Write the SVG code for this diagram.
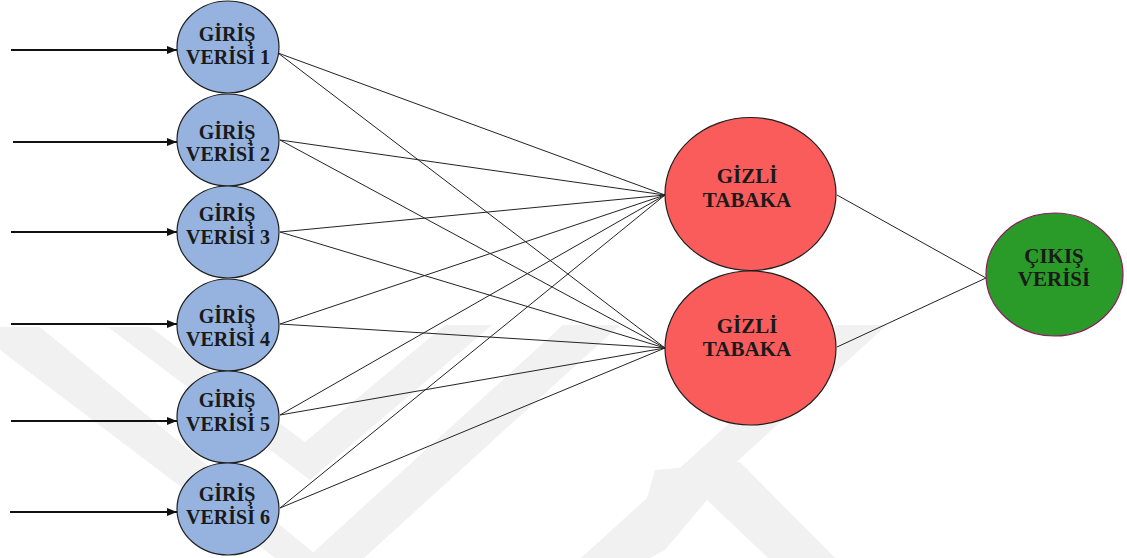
<svg xmlns="http://www.w3.org/2000/svg" width="1127" height="558" viewBox="0 0 1127 558">
<style>
.wm{fill:#f1f1f1;stroke:none}
.in{fill:#95b3de;stroke:#1f1f1f;stroke-width:1.2}
.hid{fill:#fa5c5c;stroke:#1f1f1f;stroke-width:1.2}
.out{fill:#2a9a28;stroke:#8b1c62;stroke-width:1.2}
.lbl{font-family:"Liberation Serif","Times New Roman",serif;font-weight:bold;font-size:20px;fill:#1a1a1a;text-anchor:middle}
.c{stroke:#222;stroke-width:1;fill:none}
.arr{stroke:#111;stroke-width:1.8;fill:none}
</style>
<defs>
<marker id="ah" markerWidth="10" markerHeight="8" refX="10" refY="4" orient="auto" markerUnits="userSpaceOnUse">
<path d="M0,0 L10,4 L0,8 Z" fill="#111"/>
</marker>
</defs>
<rect width="1127" height="558" fill="#ffffff"/>
<g id="watermark">
<polygon class="wm" points="0,327 40,327 320,558 275,558 0,350"/>
<polygon class="wm" points="108,327 150,327 305,442 445,325 492,325 310,480"/>
<polygon class="wm" points="563,325 620,325 364,558 307,558"/>
<polygon class="wm" points="837,325 887,325 631,558 581,558"/>
<polygon class="wm" points="655,470 740,462 835,558 768,558 707,500 665,550 650,558 630,558"/>
</g>
<g id="connectors">
<line class="arr" x1="11" y1="50" x2="177" y2="50" marker-end="url(#ah)"/>
<line class="arr" x1="13" y1="142" x2="177" y2="142" marker-end="url(#ah)"/>
<line class="arr" x1="11" y1="232" x2="177" y2="232" marker-end="url(#ah)"/>
<line class="arr" x1="11" y1="324" x2="177" y2="324" marker-end="url(#ah)"/>
<line class="arr" x1="11" y1="421" x2="177" y2="421" marker-end="url(#ah)"/>
<line class="arr" x1="10" y1="512" x2="177" y2="512" marker-end="url(#ah)"/>
<line class="c" x1="278" y1="53" x2="665" y2="195"/>
<line class="c" x1="278" y1="53" x2="665" y2="348"/>
<line class="c" x1="280" y1="140" x2="665" y2="195"/>
<line class="c" x1="280" y1="140" x2="665" y2="348"/>
<line class="c" x1="280" y1="232" x2="665" y2="195"/>
<line class="c" x1="280" y1="232" x2="665" y2="348"/>
<line class="c" x1="280" y1="324" x2="665" y2="195"/>
<line class="c" x1="280" y1="324" x2="665" y2="348"/>
<line class="c" x1="280" y1="415" x2="665" y2="195"/>
<line class="c" x1="280" y1="415" x2="665" y2="348"/>
<line class="c" x1="280" y1="508" x2="665" y2="195"/>
<line class="c" x1="280" y1="508" x2="665" y2="348"/>
<line class="c" x1="837" y1="195" x2="986" y2="278"/>
<line class="c" x1="837" y1="347" x2="986" y2="278"/>
</g>
<g id="input1"><ellipse class="in" cx="228" cy="47" rx="51" ry="46"/><text class="lbl" x="227" y="41">GİRİŞ</text><text class="lbl" x="228" y="64">VERİSİ 1</text></g>
<g id="input2"><ellipse class="in" cx="228" cy="140" rx="51" ry="46"/><text class="lbl" x="227" y="139">GİRİŞ</text><text class="lbl" x="228" y="161">VERİSİ 2</text></g>
<g id="input3"><ellipse class="in" cx="228" cy="232" rx="51" ry="46"/><text class="lbl" x="227" y="221">GİRİŞ</text><text class="lbl" x="228" y="244">VERİSİ 3</text></g>
<g id="input4"><ellipse class="in" cx="228" cy="325" rx="51" ry="46"/><text class="lbl" x="227" y="323">GİRİŞ</text><text class="lbl" x="228" y="346">VERİSİ 4</text></g>
<g id="input5"><ellipse class="in" cx="228" cy="417" rx="51" ry="46"/><text class="lbl" x="227" y="407">GİRİŞ</text><text class="lbl" x="228" y="431">VERİSİ 5</text></g>
<g id="input6"><ellipse class="in" cx="228" cy="509" rx="51" ry="46"/><text class="lbl" x="227" y="501">GİRİŞ</text><text class="lbl" x="228" y="524">VERİSİ 6</text></g>
<g id="hidden1"><ellipse class="hid" cx="750.5" cy="194" rx="85.5" ry="76.5"/><text class="lbl" x="747" y="183" style="font-size:21px">GİZLİ</text><text class="lbl" x="747" y="207" style="font-size:21px">TABAKA</text></g>
<g id="hidden2"><ellipse class="hid" cx="750.5" cy="348" rx="85.5" ry="77"/><text class="lbl" x="747" y="333" style="font-size:21px">GİZLİ</text><text class="lbl" x="747" y="356" style="font-size:21px">TABAKA</text></g>
<g id="output"><ellipse class="out" cx="1054.5" cy="274.5" rx="68.5" ry="61.5"/><text class="lbl" x="1054" y="263" style="font-size:21px">ÇIKIŞ</text><text class="lbl" x="1054" y="286" style="font-size:21px">VERİSİ</text></g>
</svg>
